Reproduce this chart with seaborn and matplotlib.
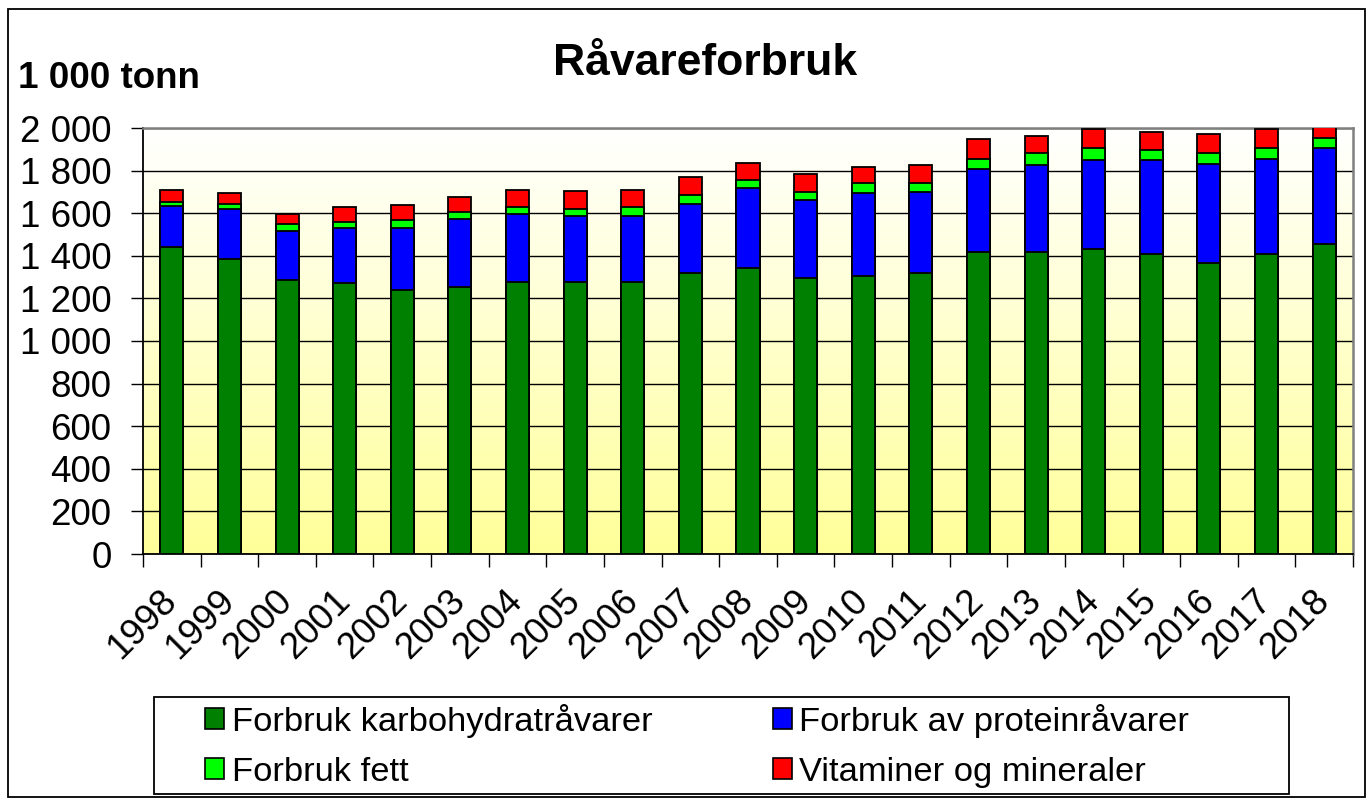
import numpy as np
import pandas as pd
import matplotlib
matplotlib.use("Agg")
import matplotlib.pyplot as plt
import seaborn as sns
from matplotlib.patches import Patch, Rectangle
from matplotlib.ticker import FuncFormatter, FixedLocator
from matplotlib.colors import LinearSegmentedColormap

years = [str(y) for y in range(1998, 2019)]
karbohydrat = [1441, 1385, 1286, 1271, 1238, 1255, 1277, 1277, 1277, 1319, 1343,
               1294, 1304, 1319, 1416, 1416, 1433, 1408, 1368, 1408, 1457]
protein = [194, 236, 229, 261, 294, 318, 319, 310, 310, 326, 374,
           368, 391, 382, 392, 409, 415, 440, 464, 448, 449]
fett = [19, 24, 33, 25, 35, 31, 33, 33, 40, 40, 40,
        39, 48, 42, 48, 56, 57, 47, 49, 49, 49]
vitaminer = [56, 51, 47, 72, 70, 74, 81, 83, 83, 83, 77,
             83, 74, 83, 91, 83, 90, 85, 91, 90, 80]

series_names = ["Forbruk karbohydratråvarer", "Forbruk av proteinråvarer",
                "Forbruk fett", "Vitaminer og mineraler"]
series_colors = ["#008000", "#0000FF", "#00FF00", "#FF0000"]

sns.set_theme(style="white")
plt.rcParams["font.family"] = ["Liberation Sans", "DejaVu Sans"]
plt.rcParams["text.color"] = "black"

W, H = 1370, 800
fig = plt.figure(figsize=(W / 100, H / 100), dpi=100)
ax = fig.add_axes([143 / W, 1 - 554 / H, (1353 - 143) / W, (554 - 128) / H])

df = pd.DataFrame({"year": years, "k": karbohydrat, "p": protein, "f": fett, "v": vitaminer})
c1 = df["k"]
c2 = c1 + df["p"]
c3 = c2 + df["f"]
c4 = c3 + df["v"]
cums = [c1, c2, c3, c4]

# background gradient
grad = np.linspace(0, 1, 256).reshape(-1, 1)
cmap = LinearSegmentedColormap.from_list("bg", ["#FFFF99", "#FFFFFF"])
ax.imshow(grad, extent=[0, 1, 0, 1], transform=ax.transAxes, cmap=cmap,
          aspect="auto", origin="lower", zorder=-2)

for i in [3, 2, 1, 0]:
    sns.barplot(x=df["year"], y=cums[i], color=series_colors[i], saturation=1,
                width=0.4, edgecolor="black", linewidth=1.3, errorbar=None,
                ax=ax, zorder=3)

ax.set_xlim(-0.5, len(years) - 0.5)
ax.set_ylim(0, 2000)
ax.set_xlabel("")
ax.set_ylabel("")
ax.set_yticks(np.arange(0, 2001, 200))
ax.yaxis.set_major_formatter(FuncFormatter(lambda v, p: f"{v:,.0f}".replace(",", " ")))
ax.yaxis.grid(True, color="black", linewidth=1.0)
ax.set_axisbelow(True)
ax.tick_params(axis="y", which="major", left=True, length=8.6, width=1.0,
               color="black", pad=14, labelsize=26.5, labelcolor="black")

# x ticks: marks at category borders, labels at centers
ax.xaxis.set_major_locator(FixedLocator(np.arange(-0.5, len(years), 1.0)))
ax.xaxis.set_minor_locator(FixedLocator(np.arange(0, len(years), 1.0)))
ax.set_xticklabels([])
ax.set_xticklabels(years, minor=True)
ax.tick_params(axis="x", which="major", bottom=True, length=9, width=1.0, color="black")
ax.tick_params(axis="x", which="minor", bottom=True, length=0, pad=30,
               labelsize=26.5, labelcolor="black")
for lbl in ax.get_xticklabels(minor=True):
    lbl.set_rotation(45)
    lbl.set_ha("right")
    lbl.set_va("center")
    lbl.set_rotation_mode("anchor")

for s in ["left", "bottom"]:
    ax.spines[s].set_color("black")
    ax.spines[s].set_linewidth(1.3)
for s in ["top", "right"]:
    ax.spines[s].set_color("#808080")
    ax.spines[s].set_linewidth(1.8)

fig.text(705 / W, 1 - 75 / H, "Råvareforbruk", ha="center", va="baseline",
         fontsize=32, fontweight="bold", color="black")
fig.text(18 / W, 1 - 88 / H, "1 000 tonn", ha="left", va="baseline",
         fontsize=26.5, fontweight="bold", color="black")

# outer border
fig.patches.append(Rectangle((8 / W, 1 - 797 / H), (1365 - 8) / W, (797 - 9) / H,
                             transform=fig.transFigure, fill=False,
                             edgecolor="black", linewidth=1.3))
# legend frame
fig.patches.append(Rectangle((154 / W, 1 - 794 / H), (1289 - 154) / W, (794 - 697) / H,
                             transform=fig.transFigure, fill=False,
                             edgecolor="black", linewidth=1.3))

handles = [Patch(facecolor=series_colors[i], edgecolor="black", linewidth=1.2)
           for i in range(4)]
order = [0, 2, 1, 3]
fig.legend([handles[i] for i in order], [series_names[i] for i in order],
           ncol=2, loc="upper left", bbox_to_anchor=(205 / W, 1 - 704 / H),
           frameon=False, fontsize=24.8, handlelength=0.55, handleheight=0.55,
           handletextpad=0.22, columnspacing=3.5, labelspacing=0.55,
           borderpad=0, borderaxespad=0, labelcolor="black")

fig.savefig("out.png", dpi=100)
